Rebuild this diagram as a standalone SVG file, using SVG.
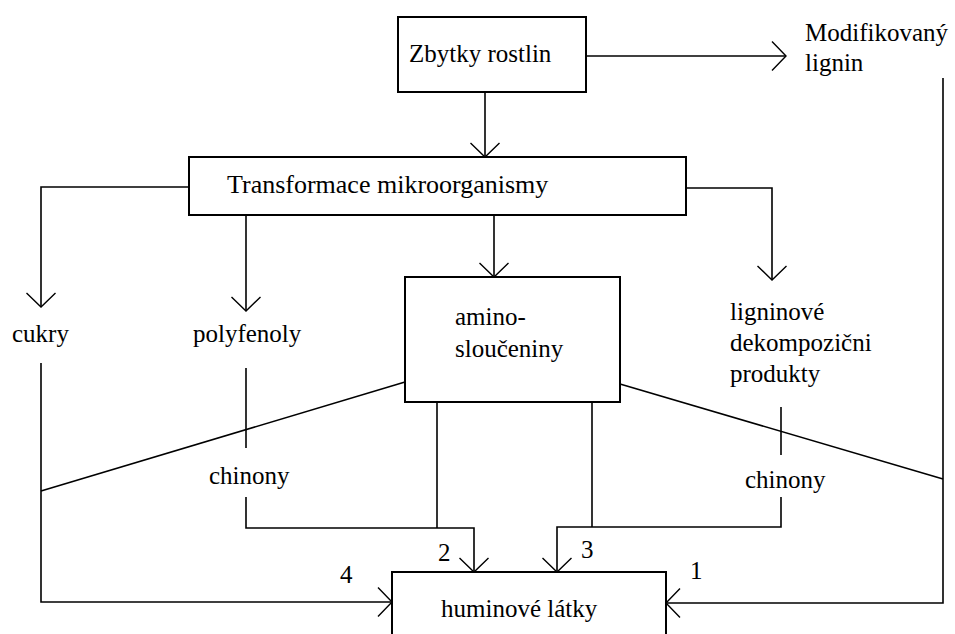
<svg xmlns="http://www.w3.org/2000/svg" width="955" height="634" viewBox="0 0 955 634">
<defs>
<style>
.box{fill:#fff;stroke:#000;stroke-width:2}
.ln{fill:none;stroke:#000;stroke-width:1.6}
.ar{marker-end:url(#a)}
text{font-family:"Liberation Serif","Times New Roman",serif;font-size:25px;fill:#000}
</style>
<marker id="a" markerUnits="userSpaceOnUse" markerWidth="30" markerHeight="32" refX="15" refY="16" orient="auto" viewBox="0 0 30 32" overflow="visible">
<path d="M1,1.5 L15,16 L1,30.5" fill="none" stroke="#000" stroke-width="1.4"/>
</marker>
</defs>
<rect width="955" height="634" fill="#fff"/>
<g id="connectors">
<path class="ln ar" d="M485,92 V157"/>
<path class="ln ar" d="M587,56 H786"/>
<path class="ln ar" d="M189,187 H41 V307"/>
<path class="ln ar" d="M246,215 V311"/>
<path class="ln ar" d="M494,215 V277"/>
<path class="ln ar" d="M686,188 H772 V280"/>
<path class="ln ar" d="M41,363 V602 H392"/>
<path class="ln" d="M246,368 V448"/>
<path class="ln ar" d="M246,497 V528 H474 V572"/>
<path class="ln" d="M437,402 V528"/>
<path class="ln" d="M592,402 V527"/>
<path class="ln ar" d="M781,497 V527 H557 V572"/>
<path class="ln" d="M781,407 V455"/>
<path class="ln ar" d="M943,78 V603 H666"/>
<path class="ln" d="M405,382 L41,491"/>
<path class="ln" d="M620,384 L943,479"/>
</g>
<g id="zbytky">
<rect class="box" x="398" y="17" width="188" height="75"/>
<text x="409" y="62">Zbytky rostlin</text>
</g>
<g id="modifikovany">
<text x="805" y="41">Modifikovaný</text>
<text x="805" y="71">lignin</text>
</g>
<g id="transformace">
<rect class="box" x="189" y="157" width="497" height="58"/>
<text x="227" y="193" style="font-size:26px">Transformace mikroorganismy</text>
</g>
<g id="cukry"><text x="12" y="342">cukry</text></g>
<g id="polyfenoly"><text x="193" y="342">polyfenoly</text></g>
<g id="amino">
<rect class="box" x="405" y="277" width="215" height="125"/>
<text x="455" y="325">amino-</text>
<text x="455" y="357">sloučeniny</text>
</g>
<g id="ligninove">
<text x="730" y="320">ligninové</text>
<text x="730" y="351">dekompozični</text>
<text x="730" y="382">produkty</text>
</g>
<g id="chinony1"><text x="209" y="484">chinony</text></g>
<g id="chinony2"><text x="745" y="488">chinony</text></g>
<g id="huminove">
<rect class="box" x="392" y="572" width="274" height="80"/>
<text x="441" y="617">huminové látky</text>
</g>
<g id="labels">
<text x="340" y="583">4</text>
<text x="438" y="561">2</text>
<text x="581" y="558">3</text>
<text x="690" y="579">1</text>
</g>
</svg>
